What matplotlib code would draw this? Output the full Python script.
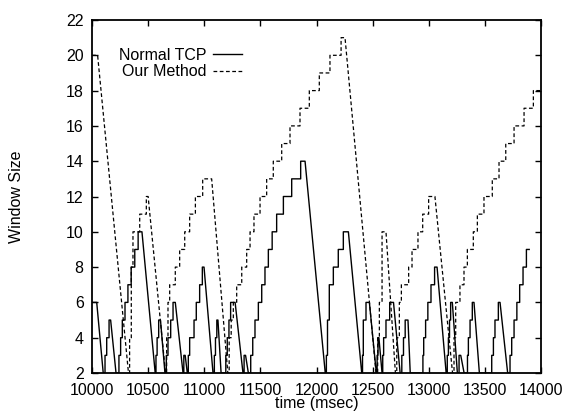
##########  IMPORTS  ##########
import matplotlib
matplotlib.use("Agg")
import matplotlib.pyplot as plt

### Data ###
# knots: the window jumps to w at time t (steps up), falls in a straight line
normal_t = [10000, 10042, 10100, 10116, 10131, 10152, 10166, 10214, 10225, 10240,
            10255, 10270, 10294, 10320, 10349, 10381, 10411, 10445, 10563, 10570,
            10580, 10594, 10610, 10650, 10662, 10677, 10701, 10722, 10742, 10811,
            10818, 10830, 10849, 10858, 10870, 10909, 10929, 10959, 10983, 10998,
            11078, 11090, 11100, 11112, 11122, 11150, 11180, 11192, 11205, 11220,
            11235, 11275, 11345, 11355, 11368, 11393, 11405, 11414, 11432, 11452,
            11482, 11512, 11541, 11571, 11605, 11645, 11705, 11779, 11859, 11898,
            12078, 12088, 12098, 12114, 12150, 12194, 12239, 12284, 12403, 12410,
            12417, 12441, 12471, 12533, 12540, 12548, 12556, 12584, 12590, 12598,
            12619, 12652, 12686, 12745, 12760, 12775, 12790, 12815, 12835, 12940,
            12948, 12955, 12972, 12992, 13020, 13052, 13074, 13155, 13165, 13175,
            13185, 13195, 13210, 13255, 13270, 13285, 13315, 13338, 13345, 13353,
            13368, 13388, 13403, 13451, 13546, 13561, 13576, 13590, 13620, 13635,
            13703, 13715, 13724, 13739, 13760, 13785, 13810, 13840, 13870, 13895]
normal_w = [6, 6, 2, 3, 4, 5, 5, 2, 2, 3,
            4, 5, 6, 7, 8, 9, 10, 10, 2, 3,
            4, 5, 5, 2, 3, 4, 5, 6, 6, 2,
            3, 3, 2, 3, 4, 5, 6, 7, 8, 8,
            2, 3, 4, 5, 5, 2, 2, 3, 4, 5,
            6, 6, 2, 3, 3, 2, 2, 3, 4, 5,
            6, 7, 8, 9, 10, 11, 12, 13, 14, 14,
            2, 3, 5, 7, 8, 9, 10, 10, 2, 3,
            5, 6, 6, 2, 3, 4, 4, 2, 3, 4,
            5, 6, 6, 2, 3, 4, 5, 5, 2, 2,
            3, 4, 5, 6, 7, 8, 8, 2, 3, 4,
            5, 6, 6, 2, 3, 3, 2, 2, 3, 4,
            5, 6, 6, 2, 2, 3, 4, 5, 6, 6,
            2, 2, 3, 4, 5, 6, 7, 8, 9, 9]

ours_t = [10000, 10050, 10325, 10335, 10350, 10365, 10425, 10484, 10500, 10655,
          10665, 10677, 10692, 10742, 10781, 10826, 10870, 10921, 10986, 11066,
          11210, 11222, 11240, 11259, 11289, 11334, 11378, 11408, 11443, 11497,
          11556, 11615, 11690, 11764, 11853, 11936, 12025, 12120, 12219, 12254,
          12530, 12545, 12560, 12584, 12619, 12703, 12715, 12738, 12756, 12821,
          12851, 12904, 12946, 12999, 13055, 13212, 13225, 13240, 13278, 13314,
          13344, 13397, 13433, 13492, 13566, 13626, 13686, 13760, 13849, 13932,
          14000]
ours_w = [20, 20, 2, 4, 8, 10, 11, 12, 12, 2,
          4, 6, 7, 8, 9, 10, 11, 12, 13, 13,
          2, 4, 5, 6, 7, 8, 9, 10, 11, 12,
          13, 14, 15, 16, 17, 18, 19, 20, 21, 21,
          2, 4, 6, 10, 10, 2, 4, 6, 7, 8,
          9, 10, 11, 12, 12, 2, 4, 6, 7, 8,
          9, 10, 11, 12, 13, 14, 15, 16, 17, 18,
          18]

x_ticks = [10000, 10500, 11000, 11500, 12000, 12500, 13000, 13500, 14000]
y_ticks = [2, 4, 6, 8, 10, 12, 14, 16, 18, 20, 22]


##########  FUNCTIONS  ########
def trace(t, w):				#Steps going up, straight lines going down
	xs = [t[0]]
	ys = [w[0]]
	for i in range(1, len(t)):
		if w[i] > w[i-1]:
			xs.append(t[i])		#hold the old level, then jump
			ys.append(w[i-1])
		xs.append(t[i])
		ys.append(w[i])
	return xs, ys


### Plot Results ###
plt.rcParams['font.family'] = ['Liberation Sans', 'DejaVu Sans']
plt.rcParams['font.size'] = 11.5

fig = plt.figure(figsize=(5.65, 4.15), dpi=100)
ax = fig.add_axes([92/565, 42/415, 449/565, 353/415])

xs, ys = trace(normal_t, normal_w)
ax.plot(xs, ys, color="black", lw=1.0, label="Normal TCP")
xs, ys = trace(ours_t, ours_w)
ax.plot(xs, ys, color="black", lw=0.9, ls=(0, (3, 2)), label="Our Method")

ax.set_xlim(10000, 14000)
ax.set_ylim(2, 22)
ax.set_xticks(x_ticks)
ax.set_yticks(y_ticks)
ax.tick_params(direction="in", length=4, width=1, top=True, right=True)
ax.tick_params(axis="x", pad=7)
ax.tick_params(axis="y", pad=6)
for s in ax.spines.values():
	s.set_linewidth(1.3)

ax.set_xlabel("time (msec)", labelpad=-1)
ax.set_ylabel("Window Size", labelpad=30)

ax.legend(loc="upper left", bbox_to_anchor=(0.045, 0.94), frameon=False,
          markerfirst=False, handlelength=1.8, handletextpad=0.45,
          labelspacing=0.1, borderaxespad=0)

plt.savefig("out.png", dpi=100)
